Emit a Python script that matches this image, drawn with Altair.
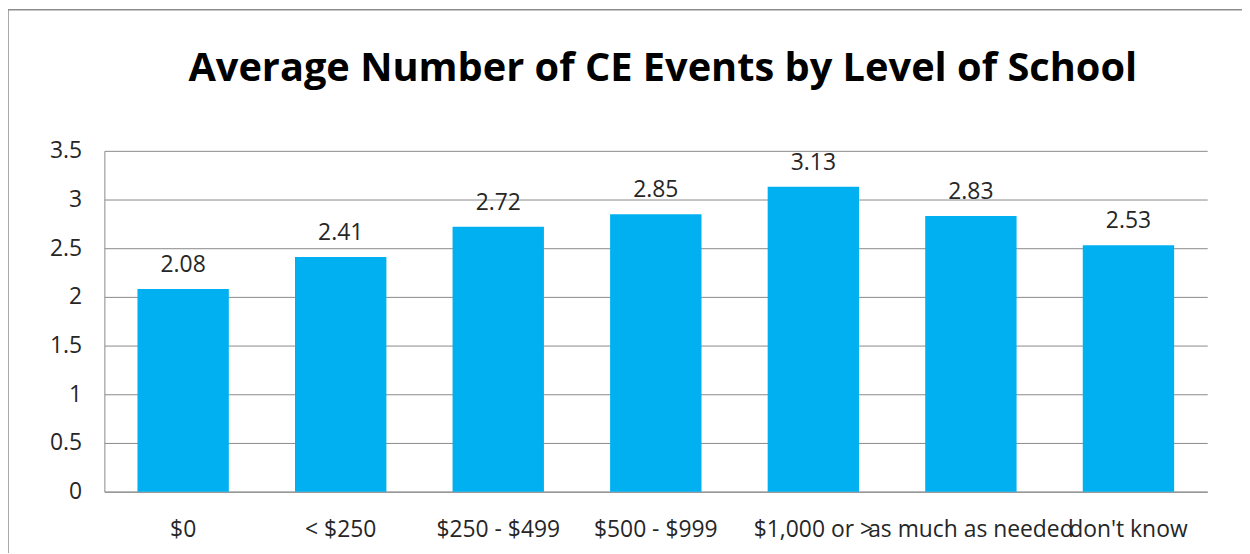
import altair as alt
import pandas as pd

categories = ["$0", "< $250", "$250 - $499", "$500 - $999", "$1,000 or >", "as much as needed", "don't know"]
values = [2.08, 2.41, 2.72, 2.85, 3.13, 2.83, 2.53]
y_ticks = [0, 0.5, 1, 1.5, 2, 2.5, 3, 3.5]

df = pd.DataFrame({"cat": categories, "val": values})

FONT = "Open Sans"
GRID = "#898989"
TXT = "#262626"

x_enc = alt.X("cat:N", sort=categories, title=None,
              scale=alt.Scale(paddingInner=0.42, paddingOuter=0.21),
              axis=alt.Axis(labelAngle=0, labelFontSize=23, labelColor=TXT, labelFont=FONT,
                            labelPadding=27, ticks=False, domainColor=GRID, labelLimit=800,
                            labelOverlap=False))
y_enc = alt.Y("val:Q", title=None,
              scale=alt.Scale(domain=[0, 3.5], nice=False),
              axis=alt.Axis(values=y_ticks, format="~g", labelFontSize=23, labelColor=TXT,
                            labelFont=FONT, labelPadding=23, ticks=False, domainColor=GRID,
                            gridColor=GRID, grid=True))

base = alt.Chart(df)
bars = base.mark_bar(color="#00B0F0").encode(x=x_enc, y=y_enc)
labels = base.mark_text(baseline="alphabetic", dy=-17, fontSize=23, font=FONT, color=TXT).encode(
    x=alt.X("cat:N", sort=categories), y="val:Q", text=alt.Text("val:Q", format=".2f"))

border = alt.Chart(pd.DataFrame({"a": [0]})).mark_rect(fill=None, stroke="#8c8c8c", strokeWidth=1.5, clip=False).encode(
    x=alt.value(-97), x2=alt.value(1200), y=alt.value(-142), y2=alt.value(600))

chart = alt.layer(border, bars, labels).properties(
    width=1110, height=343,
    autosize=alt.AutoSizeParams(type="none"),
    padding={"left": 97, "top": 142, "right": 35, "bottom": 60},
    title=alt.TitleParams("Average Number of CE Events by Level of School", fontSize=40,
                          font=FONT, fontWeight="bold", color="#000000", offset=-80, anchor="middle", dx=7),
).configure_view(stroke=None)

chart.save("out.html", embed_options={"renderer": "svg", "actions": False})
